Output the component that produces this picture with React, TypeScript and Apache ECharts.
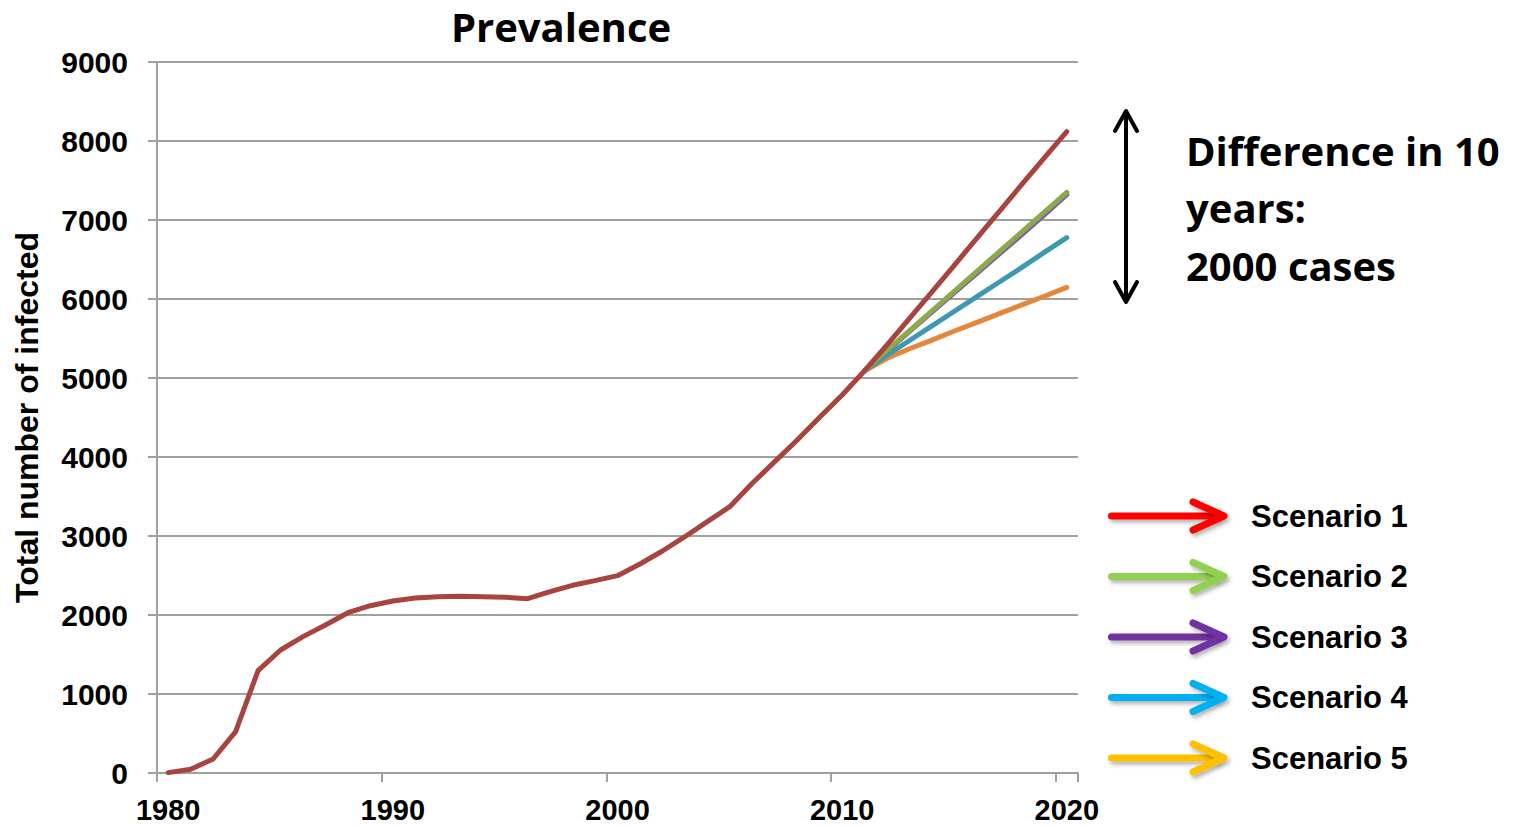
import React, { useEffect, useRef } from "react";
import * as echarts from "echarts";

// Years on the category axis
const years = [
  "1980", "1981", "1982", "1983", "1984", "1985", "1986", "1987", "1988", "1989",
  "1990", "1991", "1992", "1993", "1994", "1995", "1996", "1997", "1998", "1999",
  "2000", "2001", "2002", "2003", "2004", "2005", "2006", "2007", "2008", "2009",
  "2010", "2011", "2012", "2013", "2014", "2015", "2016", "2017", "2018", "2019",
  "2020",
];

// Scenario 1 also carries the observed history from 1980
const scenario1 = [
  5, 47, 177, 523, 1295, 1557, 1726, 1873, 2029, 2118,
  2177, 2215, 2232, 2236, 2232, 2224, 2206, 2295, 2376, 2435,
  2498, 2646, 2810, 2991, 3181, 3371, 3667, 3941, 4215, 4502,
  4785, 5092, 5420, 5755, 6090, 6430, 6770, 7110, 7450, 7785,
  8118,
];

// Projections 2011-2020
const scenario2 = [5092, 5350, 5600, 5850, 6100, 6350, 6600, 6850, 7100, 7350];
const scenario3 = [5092, 5340, 5590, 5835, 6080, 6325, 6570, 6815, 7065, 7320];
const scenario4 = [5092, 5290, 5475, 5660, 5845, 6030, 6215, 6400, 6590, 6776];
const scenario5 = [5092, 5250, 5370, 5480, 5595, 5705, 5815, 5925, 6035, 6148];

const scenarioNames = ["Scenario 1", "Scenario 2", "Scenario 3", "Scenario 4", "Scenario 5"];
const lineColors = ["#A8443F", "#8CAA4C", "#7A62A2", "#3E98B2", "#E3873C"];
const arrowColors = ["#FF0000", "#92D050", "#7030A0", "#00B0F0", "#FFC000"];

const yTicks = { min: 0, max: 9000, interval: 1000 };

const annotationLines = ["Difference in 10", "years:", "2000 cases"];

const padToYears = (vals: number[]) => [
  ...new Array(years.length - vals.length).fill(null),
  ...vals,
];

const AXIS_GREY = "#A0A0A0";
const ARIAL = '"Liberation Sans", Arial, sans-serif';
const CALIBRI = '"Open Sans", "Noto Sans", sans-serif';

export default function App() {
  const ref = useRef<HTMLDivElement>(null);

  useEffect(() => {
    if (!ref.current) return;
    const chart = echarts.init(ref.current, null, { renderer: "svg" });

    const seriesValues = [
      scenario1,
      padToYears(scenario2),
      padToYears(scenario3),
      padToYears(scenario4),
      padToYears(scenario5),
    ];

    // draw scenario 5 first so the scenario 1 line ends up on top
    const series = seriesValues
      .map((data, i) => ({
        name: scenarioNames[i],
        type: "line",
        data,
        symbol: "none",
        showSymbol: false,
        connectNulls: false,
        lineStyle: { color: lineColors[i], width: 5, cap: "round", join: "round" },
        itemStyle: { color: lineColors[i] },
        z: 10 - i,
      }))
      .reverse();

    const shadow = {
      shadowBlur: 4,
      shadowOffsetX: 2,
      shadowOffsetY: 3,
      shadowColor: "rgba(0,0,0,0.3)",
    };

    const legendGraphics: any[] = [];
    scenarioNames.forEach((name, i) => {
      const y = 516 + i * 60.5;
      // arrow shaft as a rounded bar
      legendGraphics.push({
        type: "rect",
        shape: { x: 1108, y: y - 3.5, width: 112, height: 7, r: 3.5 },
        style: { fill: arrowColors[i], ...shadow },
      });
      legendGraphics.push({
        type: "polyline",
        shape: { points: [[1193, y - 14], [1224, y], [1193, y + 14]] },
        style: {
          stroke: arrowColors[i],
          fill: "none",
          lineWidth: 7,
          lineCap: "round",
          lineJoin: "round",
          ...shadow,
        },
      });
      legendGraphics.push({
        type: "text",
        style: {
          text: name,
          x: 1251,
          y,
          fill: "#000",
          font: `bold 31px ${ARIAL}`,
          align: "left",
          verticalAlign: "middle",
        },
      });
    });

    const rangeArrow = [
      {
        type: "line",
        shape: { x1: 1126, y1: 112, x2: 1126, y2: 301 },
        style: { stroke: "#000", lineWidth: 4 },
      },
      {
        type: "polyline",
        shape: { points: [[1115, 131], [1126, 111], [1137, 131]] },
        style: { stroke: "#000", fill: "none", lineWidth: 4, lineCap: "round", lineJoin: "round" },
      },
      {
        type: "polyline",
        shape: { points: [[1115, 282], [1126, 302], [1137, 282]] },
        style: { stroke: "#000", fill: "none", lineWidth: 4, lineCap: "round", lineJoin: "round" },
      },
    ];

    const annotation = annotationLines.map((t, i) => ({
      type: "text",
      style: {
        text: t,
        x: 1186,
        y: 150 + i * 57.5,
        fill: "#000",
        font: `bold 40px ${CALIBRI}`,
        align: "left",
        verticalAlign: "middle",
      },
    }));

    chart.setOption({
      animation: false,
      backgroundColor: "#fff",
      title: {
        text: "Prevalence",
        left: 561,
        top: 6,
        padding: 0,
        textAlign: "center",
        textStyle: {
          fontFamily: CALIBRI,
          fontSize: 40,
          lineHeight: 40,
          fontWeight: "bold",
          color: "#000",
        },
      },
      grid: { left: 157, right: 440, top: 62, bottom: 53, containLabel: false },
      xAxis: {
        type: "category",
        data: years,
        boundaryGap: true,
        axisLine: { show: true, lineStyle: { color: AXIS_GREY, width: 2 } },
        axisTick: { show: true, interval: 9, length: 9, lineStyle: { color: AXIS_GREY, width: 2 } },
        axisLabel: {
          interval: 9,
          margin: 22,
          color: "#000",
          fontFamily: ARIAL,
          fontWeight: "bold",
          fontSize: 29,
        },
        splitLine: { show: false },
      },
      yAxis: {
        type: "value",
        min: yTicks.min,
        max: yTicks.max,
        interval: yTicks.interval,
        name: "Total number of infected",
        nameLocation: "middle",
        nameRotate: 90,
        nameGap: 114,
        nameTextStyle: { fontFamily: ARIAL, fontWeight: "bold", fontSize: 32, color: "#000" },
        axisLine: { show: true, lineStyle: { color: AXIS_GREY, width: 2 } },
        axisTick: { show: true, length: 9, lineStyle: { color: AXIS_GREY, width: 2 } },
        axisLabel: {
          margin: 29,
          color: "#000",
          fontFamily: ARIAL,
          fontWeight: "bold",
          fontSize: 30,
          formatter: (v: number) => String(v),
        },
        splitLine: { show: true, lineStyle: { color: AXIS_GREY, width: 2 } },
      },
      series,
      graphic: [...rangeArrow, ...annotation, ...legendGraphics],
    });

    return () => chart.dispose();
  }, []);

  return (
    <div
      ref={ref}
      style={{ position: "fixed", left: 0, top: 0, width: 1518, height: 826, background: "#fff" }}
    />
  );
}
